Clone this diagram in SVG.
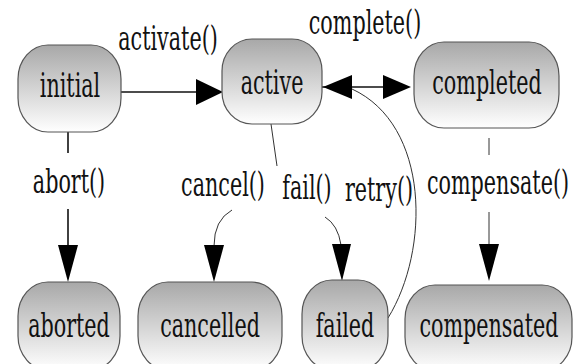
<svg xmlns="http://www.w3.org/2000/svg" width="575" height="364" viewBox="0 0 575 364">
<defs>
<linearGradient id="g" x1="0" y1="0" x2="0" y2="1">
<stop offset="0" stop-color="#a8a8a8"/>
<stop offset="1" stop-color="#ffffff"/>
</linearGradient>
<style>
.node{fill:url(#g);stroke:#555;stroke-width:1.2}
.t{font-family:'DejaVu Serif Condensed','DejaVu Serif',serif;font-size:23px;fill:#111;text-anchor:middle}
.ln{fill:none;stroke:#111;stroke-width:1.6}
.thin{fill:none;stroke:#333;stroke-width:1}
.head{fill:#000;stroke:none}
</style>
</defs>
<rect width="575" height="364" fill="#fff"/>
<g id="connectors">
<line class="ln" x1="121" y1="92" x2="197" y2="92"/>
<polygon class="head" points="196,79 223,92 196,105"/>
<line class="ln" x1="322" y1="87" x2="384" y2="87"/>
<polygon class="head" points="383,75 411,87 383,99"/>
<path class="thin" d="M388,318 C430,250 430,125 352,89"/>
<polygon class="head" points="352,75 323,87 352,99"/>
<line class="ln" x1="68" y1="132" x2="68" y2="153"/>
<line class="ln" x1="68" y1="209" x2="68" y2="246"/>
<polygon class="head" points="58,245 78,245 68,282"/>
<line class="thin" x1="271" y1="124" x2="277" y2="166"/>
<path class="thin" d="M232,210 Q214,220 214,246"/>
<polygon class="head" points="204,245 224,245 214,282"/>
<path class="thin" d="M325,217 Q338,225 341,245"/>
<polygon class="head" points="332,244 351,244 342,281"/>
<line class="thin" x1="489" y1="138" x2="489" y2="155"/>
<line class="thin" x1="489" y1="212" x2="489" y2="245"/>
<polygon class="head" points="479,244 499,244 489,281"/>
<text class="t" transform="translate(168,50) scale(1,1.42)">activate()</text>
<text class="t" transform="translate(365,34) scale(1,1.42)">complete()</text>
<text class="t" transform="translate(69,193) scale(1,1.42)">abort()</text>
<text class="t" transform="translate(223,196) scale(1,1.42)">cancel()</text>
<text class="t" transform="translate(307,199) scale(1,1.42)">fail()</text>
<text class="t" transform="translate(379,201) scale(1,1.42)">retry()</text>
<text class="t" transform="translate(498,194) scale(1,1.42)">compensate()</text>
</g>
<g id="initial">
<rect class="node" x="18" y="45" width="103" height="87" rx="30" ry="34"/>
<text class="t" transform="translate(70,97) scale(1,1.42)">initial</text>
</g>
<g id="active">
<rect class="node" x="222" y="39" width="100" height="85" rx="30" ry="32"/>
<text class="t" transform="translate(272,94) scale(1,1.42)">active</text>
</g>
<g id="completed">
<rect class="node" x="414" y="42" width="145" height="86" rx="30" ry="34"/>
<text class="t" transform="translate(487,94) scale(1,1.42)">completed</text>
</g>
<g id="aborted">
<rect class="node" x="18" y="282" width="102" height="88" rx="30" ry="34"/>
<text class="t" transform="translate(69,337) scale(1,1.42)">aborted</text>
</g>
<g id="cancelled">
<rect class="node" x="138" y="282" width="144" height="88" rx="30" ry="34"/>
<text class="t" transform="translate(210,337) scale(1,1.42)">cancelled</text>
</g>
<g id="failed">
<rect class="node" x="302" y="280" width="86" height="90" rx="30" ry="34"/>
<text class="t" transform="translate(345,337) scale(1,1.42)">failed</text>
</g>
<g id="compensated">
<rect class="node" x="405" y="285" width="167" height="86" rx="30" ry="34"/>
<text class="t" transform="translate(489,337) scale(1,1.42)">compensated</text>
</g>
</svg>
